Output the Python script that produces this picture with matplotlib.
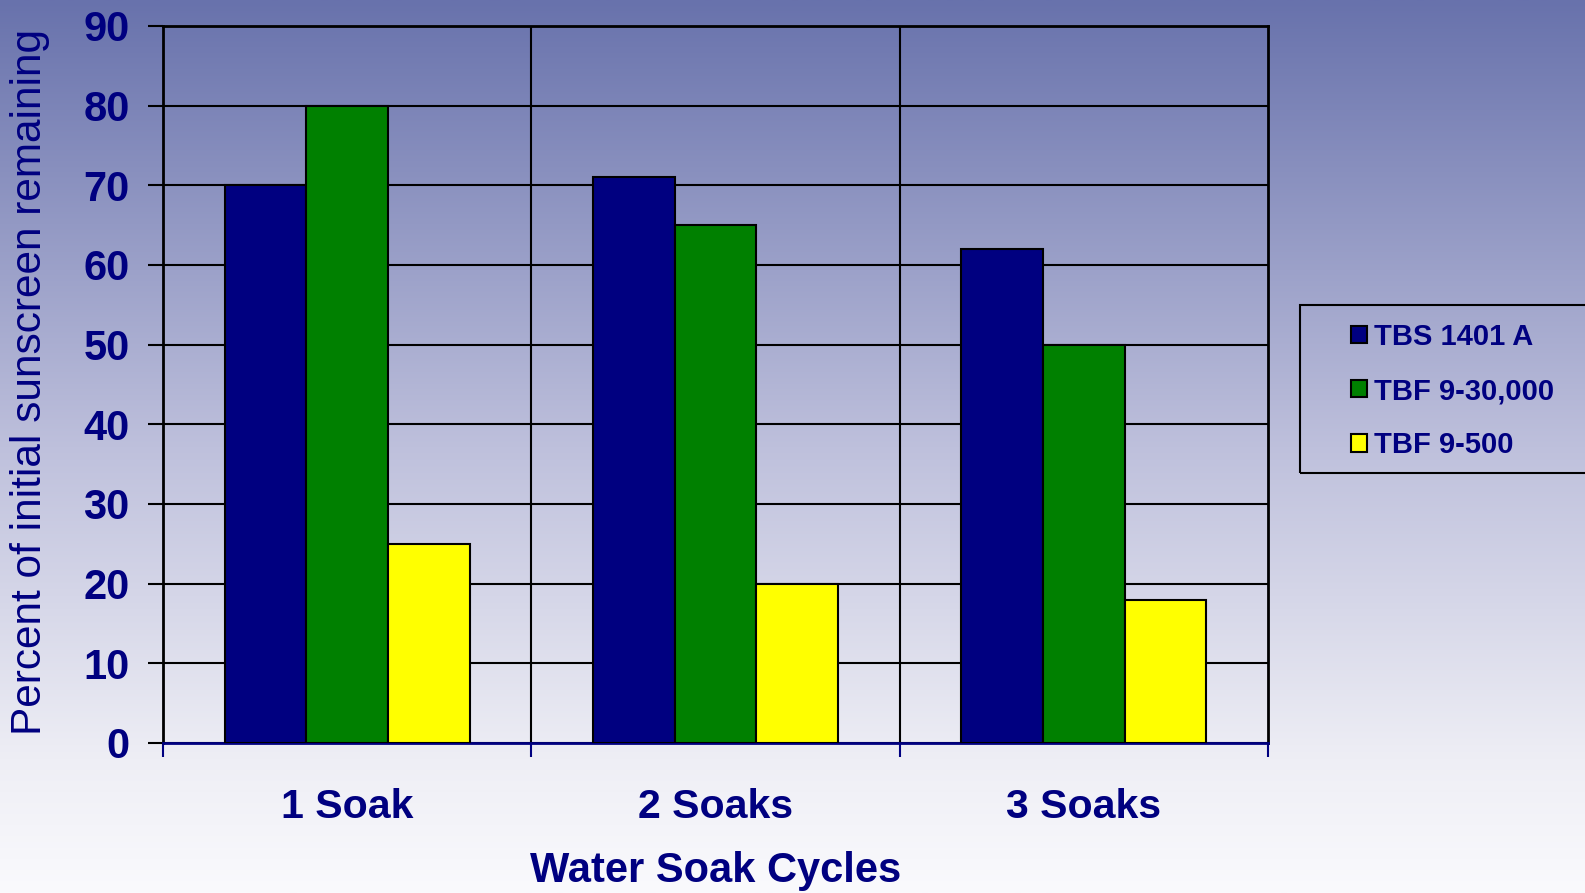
import matplotlib.pyplot as plt
import numpy as np
from matplotlib.patches import Rectangle

# data
cycles = ['1 Soak', '2 Soaks', '3 Soaks']
series = ['TBS 1401 A', 'TBF 9-30,000', 'TBF 9-500']
tbs_1401a = [70, 71, 62]
tbf_30000 = [80, 65, 50]
tbf_500 = [25, 20, 18]
yticks = [0, 10, 20, 30, 40, 50, 60, 70, 80, 90]

navy = '#000080'
bar_colors = ['#000080', '#008000', '#ffff00']

plt.rcParams['font.family'] = ['Liberation Sans', 'DejaVu Sans']

fig = plt.figure(figsize=(15.85, 8.93), dpi=100)

# gradient background over whole figure
bg = fig.add_axes([0, 0, 1, 1], zorder=-10)
stops = np.array([0.0, 0.5, 0.85, 1.0])
cols = np.array([[104, 114, 172], [190, 192, 220], [238, 238, 245], [250, 250, 253]]) / 255.
t = np.linspace(0, 1, 400)
grad = np.stack([np.interp(t, stops, cols[:, k]) for k in range(3)], axis=1)
bg.imshow(grad[:, None, :], aspect='auto', extent=[0, 1, 0, 1])
bg.axis('off')

ax = fig.add_axes([163 / 1585, 1 - 743 / 893, (1268 - 163) / 1585, (743 - 26) / 893])
ax.set_facecolor('none')

x = np.arange(len(cycles))
w = 0.222
bars = []
for i, vals in enumerate([tbs_1401a, tbf_30000, tbf_500]):
    b = ax.bar(x + (i - 1) * w, vals, width=w, color=bar_colors[i],
               edgecolor='black', linewidth=1.5, label=series[i], zorder=3)
    bars.append(b)

ax.set_xlim(-0.5, 2.5)
ax.set_ylim(0, 90)
ax.set_yticks(yticks)
ax.yaxis.grid(True, color='black', linewidth=1.5, zorder=0)
for xv in [0.5, 1.5]:
    ax.axvline(xv, color='black', linewidth=1.5, zorder=0)

ax.set_xticks([-0.5, 0.5, 1.5, 2.5])
ax.set_xticklabels([])
ax.set_xticks(x, minor=True)
ax.set_xticklabels(cycles, minor=True)
ax.tick_params(axis='x', which='major', direction='out', length=10,
               width=1.5, color=navy)
ax.tick_params(axis='x', which='minor', length=0, pad=32.5,
               labelsize=29.5, labelcolor=navy)
ax.tick_params(axis='y', direction='out', length=11, width=1.5,
               color='black', pad=13, labelsize=30, labelcolor=navy)
for lab in ax.get_yticklabels() + ax.get_xticklabels(minor=True):
    lab.set_fontweight('bold')

for s in ['left', 'top', 'right']:
    ax.spines[s].set_color('black')
    ax.spines[s].set_linewidth(2)
ax.spines['bottom'].set_color(navy)
ax.spines['bottom'].set_linewidth(2)

ax.set_xlabel('Water Soak Cycles', fontsize=30, fontweight='bold',
              color=navy, labelpad=18)
fig.text(30 / 1585, 1 - 382 / 893, 'Percent of initial sunscreen remaining',
         rotation=90, ha='center', va='center', fontsize=30.5, color=navy)

# legend with frame that runs off the right edge
fig.patches.append(Rectangle((1300 / 1585, 1 - 473 / 893), 320 / 1585, 168 / 893,
                             transform=fig.transFigure, fill=False,
                             edgecolor='black', linewidth=1.5))
leg = fig.legend(handles=bars, labels=series, loc='center left',
                 bbox_to_anchor=(1339 / 1585, 1 - 391 / 893), frameon=False,
                 prop={'weight': 'bold', 'size': 21}, handlelength=0.55,
                 handleheight=0.55, handletextpad=0.25, labelspacing=0.9,
                 borderaxespad=0)
for txt in leg.get_texts():
    txt.set_color(navy)

fig.savefig('out.png', dpi=100)
